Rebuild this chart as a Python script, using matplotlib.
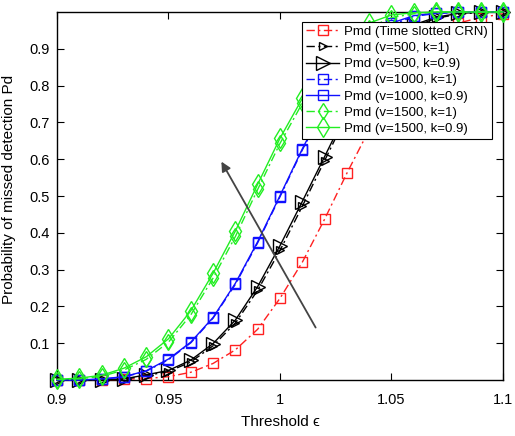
import matplotlib
matplotlib.use("Agg")
import matplotlib.pyplot as plt
import numpy as np

plt.rcParams['font.family'] = ['Liberation Sans', 'DejaVu Sans']

threshold = [0.90, 0.91, 0.92, 0.93, 0.94, 0.95, 0.96, 0.97, 0.98, 0.99, 1.00,
             1.01, 1.02, 1.03, 1.04, 1.05, 1.06, 1.07, 1.08, 1.09, 1.10]

pmd_crn = [0, 0, 0, 0.002, 0.004, 0.009, 0.021, 0.045, 0.082, 0.138, 0.222,
           0.32, 0.437, 0.562, 0.68, 0.79, 0.88, 0.94, 0.97, 0.985, 0.995]
pmd_v500_k1 = [0, 0, 0, 0.002, 0.012, 0.023, 0.049, 0.093, 0.155, 0.244, 0.352,
               0.472, 0.596, 0.72, 0.83, 0.91, 0.96, 0.983, 0.994, 0.999, 1.0]
pmd_v500_k09 = [0, 0, 0, 0.003, 0.014, 0.026, 0.054, 0.099, 0.163, 0.254, 0.365,
                0.485, 0.607, 0.73, 0.84, 0.92, 0.965, 0.986, 0.996, 1.0, 1.0]
pmd_v1000_k1 = [0, 0, 0.002, 0.008, 0.024, 0.055, 0.101, 0.168, 0.26, 0.373, 0.498,
                0.625, 0.742, 0.855, 0.925, 0.965, 0.988, 0.996, 0.999, 1.0, 1.0]
pmd_v1000_k09 = [0, 0, 0.003, 0.009, 0.025, 0.057, 0.103, 0.17, 0.263, 0.376, 0.501,
                 0.628, 0.745, 0.86, 0.93, 0.97, 0.99, 0.997, 1.0, 1.0, 1.0]
pmd_v1500_k1 = [0.001, 0.003, 0.01, 0.027, 0.056, 0.103, 0.177, 0.277, 0.39, 0.518, 0.643,
                0.752, 0.848, 0.915, 0.957, 0.985, 0.995, 1.0, 1.0, 1.0, 1.0]
pmd_v1500_k09 = [0.002, 0.005, 0.013, 0.032, 0.063, 0.112, 0.188, 0.29, 0.405, 0.532, 0.657,
                 0.765, 0.86, 0.93, 0.97, 0.992, 0.998, 1.0, 1.0, 1.0, 1.0]

labels = ['Pmd (Time slotted CRN)', 'Pmd (v=500, k=1)', 'Pmd (v=500, k=0.9)',
          'Pmd (v=1000, k=1)', 'Pmd (v=1000, k=0.9)', 'Pmd (v=1500, k=1)',
          'Pmd (v=1500, k=0.9)']

fig = plt.figure(figsize=(5.15, 4.36), dpi=100)
ax = fig.add_axes([57/515, 1 - 380/436, 446/515, 368/436])

dashdot = (0, (6, 2.5, 1.5, 2.5))
series = [
    (pmd_crn, '#ff2020', dashdot, 's', 6.5),
    (pmd_v500_k1, 'black', dashdot, '>', 6),
    (pmd_v500_k09, 'black', '-', '>', 10),
    (pmd_v1000_k1, '#1010ff', dashdot, 's', 7),
    (pmd_v1000_k09, '#1010ff', '-', 's', 7.5),
    (pmd_v1500_k1, '#22ee22', dashdot, 'd', 8.5),
    (pmd_v1500_k09, '#22ee22', '-', 'd', 10),
]
for (vals, c, ls, m, ms), lab in zip(series, labels):
    ax.plot(threshold, vals, color=c, linestyle=ls, marker=m, markersize=ms,
            markerfacecolor='none', markeredgecolor=c, markeredgewidth=1.0,
            linewidth=1.0, label=lab, clip_on=False, zorder=3)

ax.annotate('', xy=(0.9731, 0.60), xytext=(1.0166, 0.136),
            arrowprops=dict(arrowstyle='-|>', color='#444444', lw=1.3,
                            mutation_scale=14))

ax.set_xlim(0.9, 1.1)
ax.set_ylim(0, 1.0)
ax.set_xticks([0.9, 0.95, 1.0, 1.05, 1.1])
ax.set_xticklabels(['0.9', '0.95', '1', '1.05', '1.1'])
ax.set_yticks([0.1, 0.2, 0.3, 0.4, 0.5, 0.6, 0.7, 0.8, 0.9])
ax.set_yticklabels(['0.1', '0.2', '0.3', '0.4', '0.5', '0.6', '0.7', '0.8', '0.9'])
ax.tick_params(direction='in', top=True, right=True, length=5, labelsize=10.5,
               width=0.8)
ax.tick_params(axis='x', pad=9)
ax.tick_params(axis='y', pad=5)
for s in ax.spines.values():
    s.set_linewidth(1.0)

ax.set_xlabel('Threshold \u03f5', fontsize=11, labelpad=6)
ax.set_ylabel('Probability of missed detection Pd', fontsize=11)
ax.yaxis.set_label_coords((16 - 57) / 446, (380 - 189) / 368)

leg = ax.legend(loc='upper right', fontsize=9.5, frameon=True, fancybox=False,
                edgecolor='black', framealpha=1, handlelength=2.5, handletextpad=0.4,
                borderpad=0.3, labelspacing=0.3, borderaxespad=0)
leg.get_frame().set_linewidth(0.8)
leg.set_bbox_to_anchor(((492 - 57) / 446, 1 - (21.7 - 12) / 368), transform=ax.transAxes)

fig.savefig('out.png', dpi=100)
